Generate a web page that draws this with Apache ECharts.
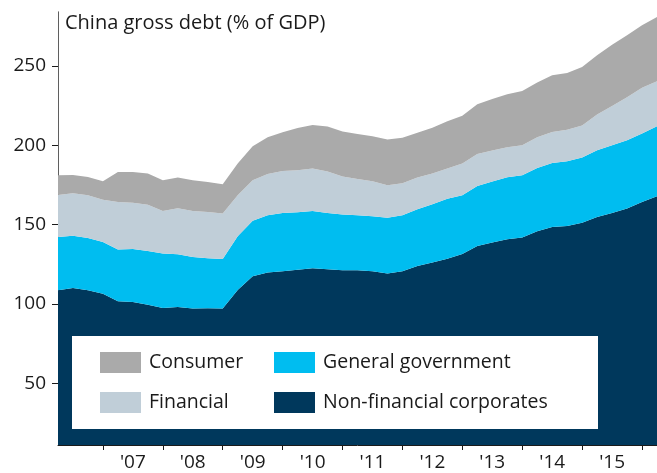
<!DOCTYPE html>
<html>
<head>
<meta charset="utf-8">
<script src="https://cdn.jsdelivr.net/npm/echarts@6/dist/echarts.min.js"></script>
<style>
  html, body { margin: 0; padding: 0; background: #fff; }
  #chart { width: 657px; height: 473px; }
</style>
</head>
<body>
<div id="chart"></div>
<script>
// quarters, 2006 Q1 .. 2016 Q1
var quarters = [];
for (var y = 2006; y <= 2016; y++) {
  for (var q = 1; q <= 4; q++) {
    if (y === 2016 && q > 1) break;
    quarters.push(y + 'Q' + q);
  }
}

var nonFinancial = [108.5, 110.0, 108.5, 106.4, 101.6, 101.1, 99.5, 97.4, 98.0, 97.0, 97.2, 97.0,
  108.8, 117.4, 119.7, 120.5, 121.5, 122.4, 121.8, 121.1, 121.1, 120.5, 119.2, 120.5,
  123.8, 126.0, 128.5, 131.4, 136.5, 138.6, 140.7, 141.8, 145.7, 148.5, 149.1, 151.2,
  154.8, 157.3, 160.1, 164.2, 167.8];
var government = [33.6, 33.0, 33.0, 32.6, 32.6, 33.5, 33.8, 34.3, 33.2, 32.5, 31.5, 31.3,
  33.8, 35.0, 36.1, 36.8, 36.2, 36.2, 35.5, 35.2, 34.7, 34.7, 35.1, 35.3,
  35.8, 36.8, 37.7, 37.1, 37.8, 38.6, 39.1, 39.3, 39.9, 40.3, 40.8, 41.0,
  42.0, 42.7, 43.1, 43.2, 44.2];
var financial = [26.5, 26.7, 27.0, 26.7, 30.0, 29.1, 29.1, 26.8, 29.1, 29.0, 29.2, 28.6,
  25.9, 25.5, 26.1, 26.5, 26.5, 26.7, 26.1, 24.0, 22.9, 22.1, 20.5, 20.2,
  20.0, 19.3, 19.1, 20.0, 20.2, 19.5, 18.9, 18.9, 19.4, 19.6, 19.8, 20.2,
  22.6, 24.7, 27.0, 28.9, 28.3];
var consumer = [12.5, 11.6, 11.5, 11.6, 19.0, 19.5, 19.7, 19.4, 19.3, 19.4, 18.9, 18.5,
  20.0, 21.5, 23.1, 24.4, 26.7, 27.5, 28.4, 28.3, 28.4, 28.4, 28.8, 28.7,
  28.3, 28.9, 29.8, 30.1, 31.4, 32.4, 33.4, 34.2, 34.6, 35.8, 35.9, 37.0,
  37.4, 38.6, 39.2, 39.4, 40.5];

var yTicks = [50, 100, 150, 200, 250];

var font = '"Open Sans", "Noto Sans", sans-serif';
var chart = echarts.init(document.getElementById('chart'));

function area(name, data, color) {
  return {
    name: name,
    type: 'line',
    stack: 'debt',
    data: data,
    symbol: 'none',
    lineStyle: { width: 0 },
    areaStyle: { color: color, opacity: 1 },
    itemStyle: { color: color },
    silent: true
  };
}

var legendCommon = {
  orient: 'vertical',
  top: 352,
  itemWidth: 41,
  itemHeight: 21,
  itemGap: 19,
  icon: 'rect',
  selectedMode: false,
  z: 11,
  padding: 0,
  textStyle: { fontFamily: font, fontSize: 19.5, color: '#1a1a1a', padding: [0, 0, 0, 3] }
};

chart.setOption({
  animation: false,
  backgroundColor: '#fff',
  grid: { left: 58, right: -1, top: 12, bottom: 28 },
  title: {
    text: 'China gross debt (% of GDP)',
    left: 60, top: 8,
    textStyle: { fontFamily: font, fontSize: 20, fontWeight: 'normal', color: '#1a1a1a' }
  },
  legend: [
    Object.assign({ left: 100, data: ['Consumer', 'Financial'] }, legendCommon),
    Object.assign({ left: 274, data: ['General government', 'Non-financial corporates'] }, legendCommon)
  ],
  graphic: [{
    type: 'rect',
    z: 10,
    shape: { x: 72, y: 336, width: 526, height: 93 },
    style: { fill: '#fff' }
  }],
  xAxis: {
    type: 'category',
    data: quarters,
    boundaryGap: false,
    z: 3,
    axisLine: { lineStyle: { color: '#1a1a1a', width: 1 } },
    axisTick: {
      length: 5,
      interval: function (idx) { return idx % 4 === 3; },
      lineStyle: { color: '#1a1a1a' }
    },
    axisLabel: {
      interval: function (idx) { return idx % 4 === 1 && idx >= 5 && idx <= 37; },
      formatter: function (v) { return "'" + v.slice(2, 4); },
      fontFamily: font, fontSize: 19, color: '#1a1a1a', margin: 8
    },
    splitLine: {
      show: true,
      interval: 0,
      lineStyle: { color: 'rgba(255,255,255,0.3)', width: 1 }
    }
  },
  yAxis: {
    type: 'value',
    min: 11,
    max: 284,
    axisLine: { show: true, lineStyle: { color: '#1a1a1a', width: 1 } },
    axisTick: { show: true, length: 6, customValues: yTicks, lineStyle: { color: '#1a1a1a' } },
    axisLabel: { customValues: yTicks, fontFamily: font, fontSize: 19, color: '#1a1a1a', margin: 12 },
    splitLine: { show: false }
  },
  series: [
    area('Non-financial corporates', nonFinancial, '#00385c'),
    area('General government', government, '#00bdf0'),
    area('Financial', financial, '#c0ced8'),
    area('Consumer', consumer, '#aaaaaa')
  ]
});
</script>
</body>
</html>
